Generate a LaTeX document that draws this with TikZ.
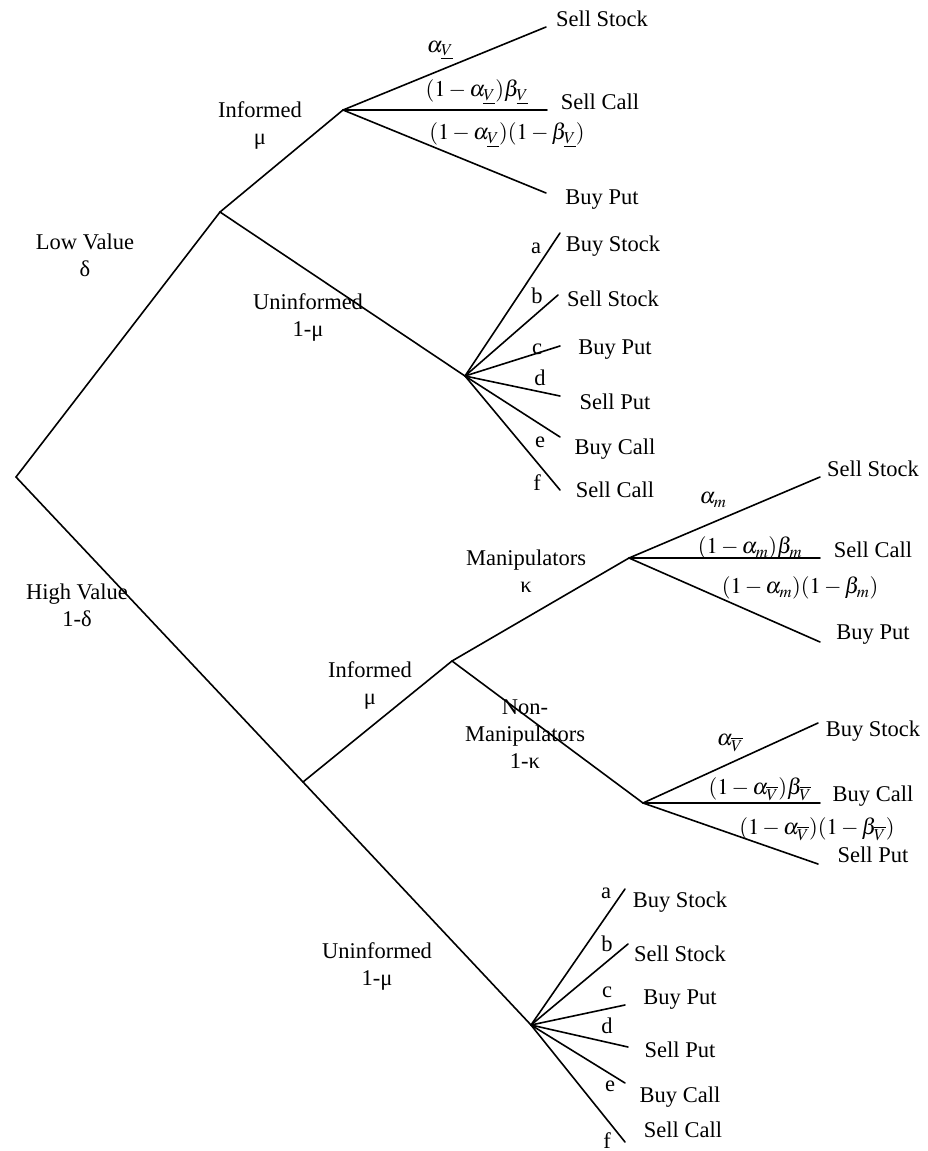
\documentclass[tikz,border=0pt]{standalone}
\usepackage{mathptmx}
\usepackage{fontspec}
\setmainfont{Liberation Serif}
\begin{document}
\begin{tikzpicture}[x=1pt,y=-1pt,
  edge/.style={line width=1.6pt, line cap=round},
  lab/.style={font=\fontsize{22.5}{27}\selectfont, inner sep=0pt, align=center, text height=15pt, text depth=5pt},
  mlab/.style={font=\fontsize{22.5}{27}\selectfont, inner sep=0pt}]
\useasboundingbox (0,0) rectangle (927,1151);
% tree points
\coordinate (root) at (16,477);
\coordinate (L) at (220,212);
\coordinate (LI) at (343,110);
\coordinate (LI1) at (546,27);
\coordinate (LI2) at (547,110);
\coordinate (LI3) at (546,193);
\coordinate (LU) at (465,376);
\coordinate (LUa) at (560,233);
\coordinate (LUb) at (558,295);
\coordinate (LUc) at (560,346);
\coordinate (LUd) at (560,396);
\coordinate (LUe) at (560,437);
\coordinate (LUf) at (560,490);
\coordinate (HI) at (303,782);
\coordinate (HIM) at (452,661);
\coordinate (HM) at (629,558);
\coordinate (HM1) at (820,477);
\coordinate (HM2) at (820,558);
\coordinate (HM3) at (820,642);
\coordinate (HN) at (643,803);
\coordinate (HN1) at (818,723);
\coordinate (HN2) at (820,803);
\coordinate (HN3) at (818,864);
\coordinate (HU) at (531,1025);
\coordinate (HUa) at (625,889);
\coordinate (HUb) at (628,944);
\coordinate (HUc) at (625,1005);
\coordinate (HUd) at (628,1047);
\coordinate (HUe) at (625,1083);
\coordinate (HUf) at (625,1142);
% edges
\draw[edge] (root) -- (L);
\draw[edge] (L) -- (LI);
\draw[edge] (L) -- (LU);
\foreach \t in {LI1,LI2,LI3} \draw[edge] (LI) -- (\t);
\foreach \t in {LUa,LUb,LUc,LUd,LUe,LUf} \draw[edge] (LU) -- (\t);
\draw[edge] (root) -- (HI);
\draw[edge] (HI) -- (HU);
\draw[edge] (HI) -- (HIM);
\draw[edge] (HIM) -- (HM);
\draw[edge] (HIM) -- (HN);
\foreach \t in {HM1,HM2,HM3} \draw[edge] (HM) -- (\t);
\foreach \t in {HN1,HN2,HN3} \draw[edge] (HN) -- (\t);
\foreach \t in {HUa,HUb,HUc,HUd,HUe,HUf} \draw[edge] (HU) -- (\t);
% branch labels
\node[lab] (tLow) at (85,271) {Low Value\\δ};
\node[lab] (tHigh) at (77,621) {High Value\\1-δ};
\node[lab] (tLI) at (260,139) {Informed\\μ};
\node[lab] (tLU) at (308,331) {Uninformed\\1-μ};
\node[lab] (tHI) at (370,699) {Informed\\μ};
\node[lab] (tHM) at (526,587) {Manipulators\\κ};
\node[lab] (tHN) at (525,763) {Non-\\Manipulators\\1-κ};
\node[lab] (tHU) at (377,980) {Uninformed\\1-μ};
% low informed leaves
\node[lab] (a1) at (602,22) {Sell Stock};
\node[lab] (a2) at (600,104) {Sell Call};
\node[lab] (a3) at (602,199) {Buy Put};
\node[mlab] (p1) at (440,50) {$\alpha_{\underline{V}}$};
\node[mlab] (p2) at (477,92) {$(1-\alpha_{\underline{V}})\beta_{\underline{V}}$};
\node[mlab] (p3) at (507,135) {$(1-\alpha_{\underline{V}})(1-\beta_{\underline{V}})$};
% low uninformed leaves
\node[lab] (la) at (536,248) {a};
\node[lab] (lb) at (537,298) {b};
\node[lab] (lc) at (537,349) {c};
\node[lab] (ld) at (540,380) {d};
\node[lab] (le) at (540,442) {e};
\node[lab] (lf) at (537,485) {f};
\node[lab] (b1) at (613,246) {Buy Stock};
\node[lab] (b2) at (613,301) {Sell Stock};
\node[lab] (b3) at (615,349) {Buy Put};
\node[lab] (b4) at (615,404) {Sell Put};
\node[lab] (b5) at (615,449) {Buy Call};
\node[lab] (b6) at (615,492) {Sell Call};
% manipulators leaves
\node[lab] (c1) at (873,471) {Sell Stock};
\node[lab] (c2) at (873,552) {Sell Call};
\node[lab] (c3) at (873,634) {Buy Put};
\node[mlab] (q1) at (713,500) {$\alpha_m$};
\node[mlab] (q2) at (750,548) {$(1-\alpha_m)\beta_m$};
\node[mlab] (q3) at (800,588) {$(1-\alpha_m)(1-\beta_m)$};
% non-manipulators leaves
\node[lab] (d1) at (873,731) {Buy Stock};
\node[lab] (d2) at (873,796) {Buy Call};
\node[lab] (d3) at (873,857) {Sell Put};
\node[mlab] (r1) at (730,743) {$\alpha_{\overline{V}}$};
\node[mlab] (r2) at (760,789) {$(1-\alpha_{\overline{V}})\beta_{\overline{V}}$};
\node[mlab] (r3) at (817,829) {$(1-\alpha_{\overline{V}})(1-\beta_{\overline{V}})$};
% high uninformed leaves
\node[lab] (ha) at (606,893) {a};
\node[lab] (hb) at (607,946) {b};
\node[lab] (hc) at (607,992) {c};
\node[lab] (hd) at (607,1028) {d};
\node[lab] (he) at (610,1086) {e};
\node[lab] (hf) at (607,1143) {f};
\node[lab] (e1) at (680,902) {Buy Stock};
\node[lab] (e2) at (680,956) {Sell Stock};
\node[lab] (e3) at (680,999) {Buy Put};
\node[lab] (e4) at (680,1052) {Sell Put};
\node[lab] (e5) at (680,1097) {Buy Call};
\node[lab] (e6) at (683,1132) {Sell Call};
\end{tikzpicture}
\end{document}
